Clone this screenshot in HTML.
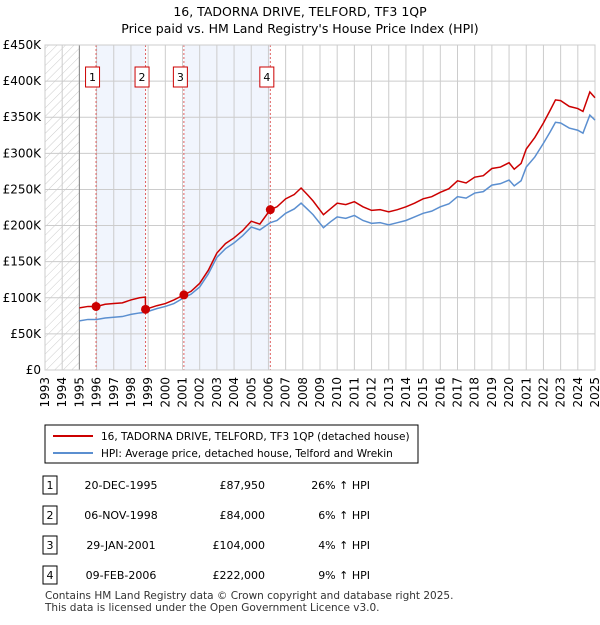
<!DOCTYPE html>
<html><head><meta charset="utf-8"><style>
body{margin:0;background:#fff;font-family:"Liberation Sans","DejaVu Sans",sans-serif;}
svg text{font-family:"DejaVu Sans","Liberation Sans",sans-serif;}
</style></head><body>
<svg id="c" width="600" height="620" xmlns="http://www.w3.org/2000/svg">
<defs><pattern id="hatch" width="6" height="6" patternUnits="userSpaceOnUse" patternTransform="rotate(45)"><line x1="0" y1="0" x2="0" y2="6" stroke="#ccc" stroke-width="1"/></pattern></defs>
<text x="300" y="16" text-anchor="middle" font-size="12.5">16, TADORNA DRIVE, TELFORD, TF3 1QP</text>
<text x="300" y="33" text-anchor="middle" font-size="12.5">Price paid vs. HM Land Registry's House Price Index (HPI)</text>
<g id="plot"></g>
<rect x="45" y="425" width="373" height="38" fill="#fff" stroke="#000" stroke-width="1"/>
<line x1="53" y1="436" x2="93" y2="436" stroke="#cc0000" stroke-width="2"/>
<text x="101" y="440" font-size="10.5">16, TADORNA DRIVE, TELFORD, TF3 1QP (detached house)</text>
<line x1="53" y1="453" x2="93" y2="453" stroke="#5b8fd0" stroke-width="2"/>
<text x="101" y="457" font-size="10.5">HPI: Average price, detached house, Telford and Wrekin</text>
<g id="table" font-size="11"></g>
<text x="45" y="599" font-size="10.5" fill="#333">Contains HM Land Registry data © Crown copyright and database right 2025.</text>
<text x="45" y="611" font-size="10.5" fill="#333">This data is licensed under the Open Government Licence v3.0.</text>
</svg>
<script>
const hpiT=[1995.0,1995.5,1996.0,1996.5,1997.0,1997.5,1998.0,1998.5,1998.85,1999.5,2000.0,2000.5,2001.08,2001.5,2002.0,2002.5,2003.0,2003.5,2004.0,2004.5,2005.0,2005.5,2006.11,2006.5,2007.0,2007.5,2007.9,2008.3,2008.6,2009.2,2009.6,2010.0,2010.5,2011.0,2011.5,2012.0,2012.5,2013.0,2013.5,2014.0,2014.5,2015.0,2015.5,2016.0,2016.5,2017.0,2017.5,2018.0,2018.5,2019.0,2019.5,2020.0,2020.3,2020.7,2021.0,2021.5,2022.0,2022.4,2022.7,2023.0,2023.5,2024.0,2024.3,2024.7,2025.0];
const hpiV=[68,70,70,72,73,74,77,79,80,85,88,92,100,105,115,133,156,168,176,186,198,194,204,207,217,223,231,222,215,197,205,212,210,214,207,203,204,201,204,207,212,217,220,226,230,240,238,245,247,256,258,263,255,262,281,295,314,330,343,342,335,332,328,353,346];
const priceT=[1995.0,1995.5,1996.0,1996.5,1997.0,1997.5,1998.0,1998.5,1998.84,1998.85,1999.5,2000.0,2000.5,2001.08,2001.5,2002.0,2002.5,2003.0,2003.5,2004.0,2004.5,2005.0,2005.5,2006.11,2006.5,2007.0,2007.5,2007.9,2008.3,2008.6,2009.2,2009.6,2010.0,2010.5,2011.0,2011.5,2012.0,2012.5,2013.0,2013.5,2014.0,2014.5,2015.0,2015.5,2016.0,2016.5,2017.0,2017.5,2018.0,2018.5,2019.0,2019.5,2020.0,2020.3,2020.7,2021.0,2021.5,2022.0,2022.4,2022.7,2023.0,2023.5,2024.0,2024.3,2024.7,2025.0];
const priceV=[86,88,88,91,92,93,97,100,101,84,89,92,97,104,109,120,138,162,175,183,193,206,202,222,226,237,243,252,242,234,215,223,231,229,233,226,221,222,219,222,226,231,237,240,246,251,262,259,267,269,279,281,287,278,286,306,322,342,360,374,373,365,362,358,385,377];
const saleT=[1995.97,1998.85,2001.08,2006.11];
const saleV=[87.95,84,104,222];
const saleLabels=["1","2","3","4"];
const saleDates=["20-DEC-1995","06-NOV-1998","29-JAN-2001","09-FEB-2006"];
const salePrices=["£87,950","£84,000","£104,000","£222,000"];
const saleHpi=["26% ↑ HPI","6% ↑ HPI","4% ↑ HPI","9% ↑ HPI"];
const yTicks=[0,50,100,150,200,250,300,350,400,450];
const yTickLabels=["£0","£50K","£100K","£150K","£200K","£250K","£300K","£350K","£400K","£450K"];
const years=[1993,1994,1995,1996,1997,1998,1999,2000,2001,2002,2003,2004,2005,2006,2007,2008,2009,2010,2011,2012,2013,2014,2015,2016,2017,2018,2019,2020,2021,2022,2023,2024,2025];

const X0=45,X1=595,Y0=370,Y1=45;
const x=t=>X0+(t-1993)/(2025-1993)*(X1-X0);
const y=v=>Y0-v/450*(Y0-Y1);
const NS="http://www.w3.org/2000/svg";
const plot=document.getElementById('plot');
function mk(tag,attrs,parent){const e=document.createElementNS(NS,tag);for(const k in attrs)e.setAttribute(k,attrs[k]);(parent||plot).appendChild(e);return e;}

let e=mk('rect',{x:X0,y:Y1,width:X1-X0,height:Y0-Y1,fill:'#fff'});


e=mk('rect',{x:x(1993),y:Y1,width:x(1995)-x(1993),height:Y0-Y1,fill:'url(#hatch)'});


[[0,1],[2,3]].forEach(p=>{
  e=mk('rect',{x:x(saleT[p[0]]),y:Y1,width:x(saleT[p[1]])-x(saleT[p[0]]),height:Y0-Y1,fill:'#eef3fc',opacity:0.8});
  
  
});
yTicks.forEach((v,i)=>{
  e=mk('line',{x1:X0,x2:X1,y1:y(v),y2:y(v),stroke:'#ccc','stroke-width':1});
  
  
  e=mk('text',{x:X0-4,y:y(v)+4,'text-anchor':'end','font-size':12});
  e.textContent=yTickLabels[i];
  
  
});
years.forEach(yr=>{
  e=mk('line',{x1:x(yr),x2:x(yr),y1:Y1,y2:Y0,stroke:'#ccc','stroke-width':1});
  
  
  e=mk('text',{x:0,y:0,'text-anchor':'end','font-size':12,transform:`translate(${x(yr)+4},${Y0+7}) rotate(-90)`});
  e.textContent=yr;
  
  
});
e=mk('line',{x1:x(1995),x2:x(1995),y1:Y1,y2:Y0,stroke:'#888','stroke-width':1});


saleT.forEach((t,i)=>{
  e=mk('line',{x1:x(t),x2:x(t),y1:Y1,y2:Y0,stroke:'#e06060','stroke-width':1,'stroke-dasharray':'2,2'});
  
  
  e=mk('rect',{x:x(t)-10.5,y:67,width:14,height:20,fill:'#fff',stroke:'#cc0000','stroke-width':1});
  
  
  e=mk('text',{x:x(t)-3.5,y:81,'text-anchor':'middle','font-size':11});
  e.textContent=saleLabels[i];
  
  
});
e=mk('rect',{x:X0,y:Y1,width:X1-X0,height:Y0-Y1,fill:'none',stroke:'#ccc'});


e=mk('polyline',{points:hpiT.map((t,i)=>x(t)+','+y(hpiV[i])).join(' '),fill:'none',stroke:'#5b8fd0','stroke-width':1.5});


e=mk('polyline',{points:priceT.map((t,i)=>x(t)+','+y(priceV[i])).join(' '),fill:'none',stroke:'#cc0000','stroke-width':1.5});


saleT.forEach((t,i)=>{
  e=mk('circle',{cx:x(t),cy:y(saleV[i]),r:4.5,fill:'#cc0000'});
  
  
});
const tb=document.getElementById('table');
saleT.forEach((t,i)=>{
  const cy=485+i*30;
  e=mk('rect',{x:43,y:cy-9,width:14,height:18,fill:'#fff',stroke:'#000'},tb);
  
  
  e=mk('text',{x:50,y:cy+4,'text-anchor':'middle'},tb);e.textContent=saleLabels[i];
  
  
  e=mk('text',{x:121,y:cy+4,'text-anchor':'middle'},tb);e.textContent=saleDates[i];
  
  
  e=mk('text',{x:265,y:cy+4,'text-anchor':'end'},tb);e.textContent=salePrices[i];
  
  
  e=mk('text',{x:370,y:cy+4,'text-anchor':'end'},tb);e.textContent=saleHpi[i];
  
  
});
</script>
</body></html>
